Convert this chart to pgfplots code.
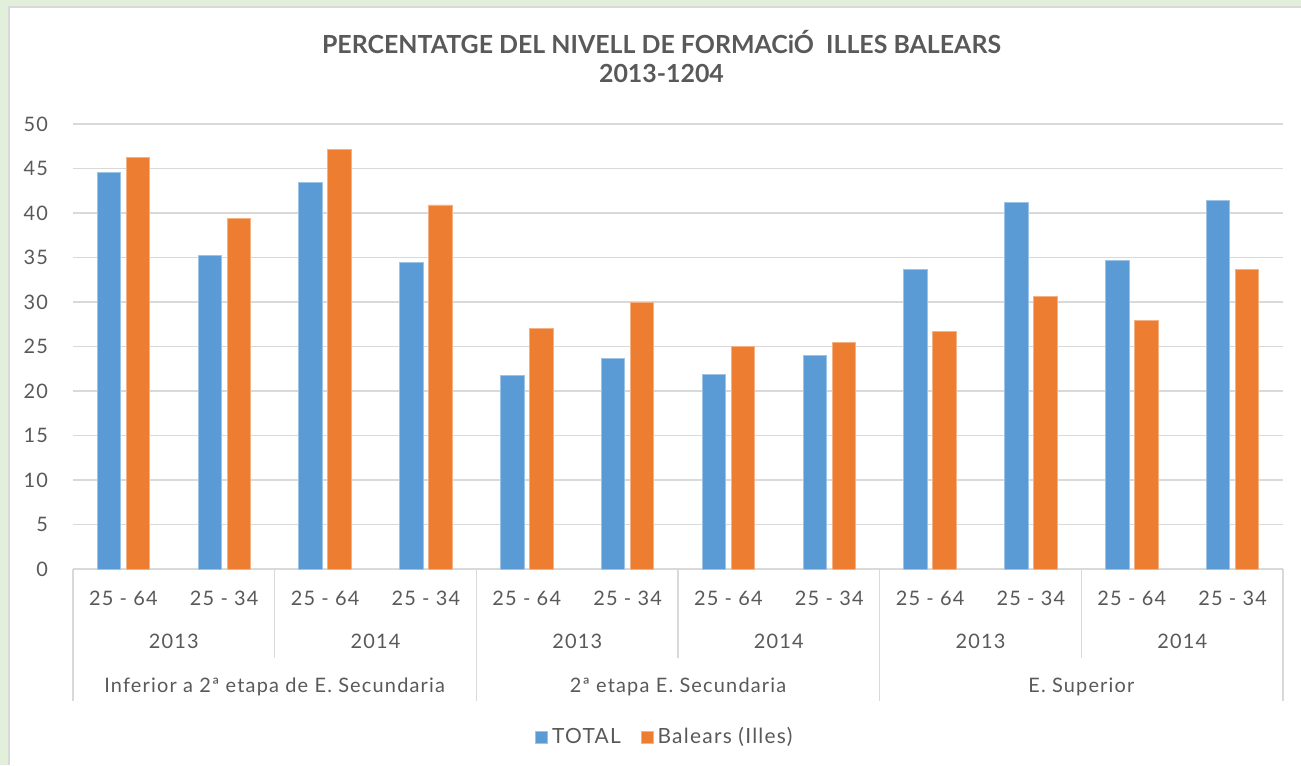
\documentclass[border=0pt]{standalone}
\usepackage{pgfplots}
\pgfplotsset{compat=1.18}
\usepackage{fontspec}
\setmainfont{Lato}
\newfontfamily\lfont{Lato}[LetterSpace=6]
\definecolor{cblue}{HTML}{5B9BD5}
\definecolor{corange}{HTML}{ED7D31}
\definecolor{txt}{HTML}{595959}
\definecolor{gridc}{HTML}{D9D9D9}
\definecolor{bgreen}{HTML}{E2EFDA}
\begin{document}
\begin{tikzpicture}[x=1bp,y=1bp]
\useasboundingbox (0,0) rectangle (650.5,382.5);
\fill[bgreen] (0,0) rectangle (650.5,382.5);
\fill[white] (5,0) rectangle (650.5,379.5);
\draw[gridc,line width=0.8bp] (4.6,0) -- (4.6,379.1) -- (650.5,379.1);
\node[text=txt,font=\fontsize{12.5}{14}\selectfont\bfseries] at (330.75,361.5) {PERCENTATGE DEL NIVELL DE FORMACiÓ\ \ ILLES BALEARS};
\node[text=txt,font=\fontsize{12.5}{14}\selectfont\bfseries] at (330.75,346) {2013-1204};
\begin{axis}[
  at={(36.5bp,98bp)}, anchor=south west,
  scale only axis, width=605bp, height=222.5bp,
  ybar=2.75bp, bar width=11.75bp,
  xmin=-0.5, xmax=11.5, ymin=0, ymax=50,
  ytick={0,5,...,50},
  xtick={0,...,11},
  xticklabels={25 - 64,25 - 34,25 - 64,25 - 34,25 - 64,25 - 34,25 - 64,25 - 34,25 - 64,25 - 34,25 - 64,25 - 34},
  major tick length=0pt,
  axis line style={draw=none},
  ymajorgrids, grid style={gridc,line width=0.8bp},
  tick label style={text=txt,font=\fontsize{10}{12}\lfont\selectfont},
  /pgf/number format/assume math mode=true,
  yticklabel style={anchor=east,xshift=-9bp},
  xticklabel style={anchor=center,yshift=-14.5bp},
  clip=false,
  legend style={at={(0.49,-0.3775)},anchor=center,draw=none,fill=none,
    legend columns=2,font=\fontsize{10.5}{12}\lfont\selectfont,text=txt,
    /tikz/every even column/.append style={column sep=8bp}},
  legend image code/.code={\fill (0bp,-3bp) rectangle (6bp,3bp);},
]
\draw[gridc,line width=0.8bp] (axis cs:-0.5,0) -- (axis cs:11.5,0);
\pgfplotsinvokeforeach{-0.5,3.5,7.5,11.5}{
  \draw[gridc,line width=0.8bp] (axis cs:#1,0) -- ([yshift=-66bp]axis cs:#1,0);
}
\pgfplotsinvokeforeach{1.5,5.5,9.5}{
  \draw[gridc,line width=0.8bp] (axis cs:#1,0) -- ([yshift=-44.5bp]axis cs:#1,0);
}
\addplot[fill=cblue,draw=cblue!60!white,line width=0.4bp] coordinates {
(0,44.6) (1,35.2) (2,43.4) (3,34.4) (4,21.7) (5,23.7) (6,21.9) (7,24.0) (8,33.7) (9,41.2) (10,34.7) (11,41.4)};
\addplot[fill=corange,draw=corange!60!white,line width=0.4bp] coordinates {
(0,46.2) (1,39.4) (2,47.1) (3,40.9) (4,27.0) (5,29.9) (6,25.0) (7,25.5) (8,26.7) (9,30.6) (10,27.9) (11,33.7)};
\legend{TOTAL,Balears (Illes)}
\pgfplotsinvokeforeach{0.5,4.5,8.5}{
  \node[text=txt,font=\fontsize{10}{12}\lfont\selectfont] at ([yshift=-36bp]axis cs:#1,0) {2013};
}
\pgfplotsinvokeforeach{2.5,6.5,10.5}{
  \node[text=txt,font=\fontsize{10}{12}\lfont\selectfont] at ([yshift=-36bp]axis cs:#1,0) {2014};
}
\node[text=txt,font=\fontsize{10}{12}\lfont\selectfont] at ([yshift=-59bp]axis cs:1.5,0) {Inferior a 2ª etapa de E. Secundaria};
\node[text=txt,font=\fontsize{10}{12}\lfont\selectfont] at ([yshift=-59bp]axis cs:5.5,0) {2ª etapa E. Secundaria};
\node[text=txt,font=\fontsize{10}{12}\lfont\selectfont] at ([yshift=-59bp]axis cs:9.5,0) {E. Superior};
\end{axis}
\end{tikzpicture}
\end{document}
